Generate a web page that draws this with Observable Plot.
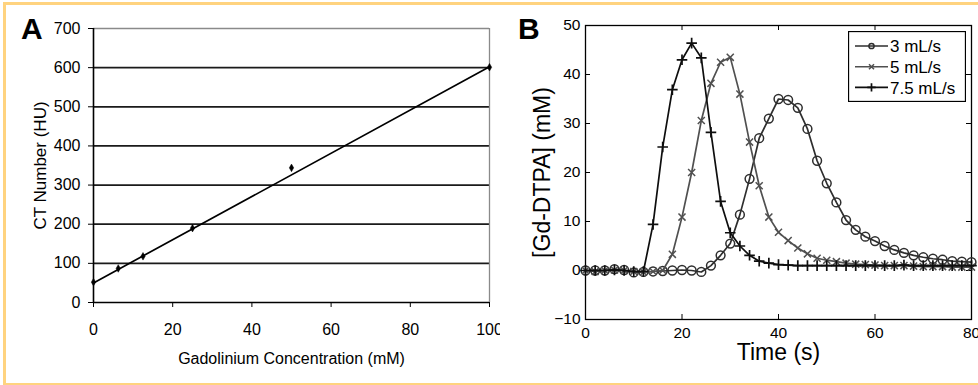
<!DOCTYPE html>
<html><head><meta charset="utf-8">
<script src="https://cdn.jsdelivr.net/npm/d3@7"></script>
<script src="https://cdn.jsdelivr.net/npm/@observablehq/plot@0.6"></script>
<style>
html,body{margin:0;padding:0;background:#fff;}
#wrap{position:relative;width:978px;height:385px;overflow:hidden;font-family:Arial,"Liberation Sans",sans-serif;}
#border{position:absolute;left:3px;top:2px;width:990px;height:378px;border-left:3px solid #FFD37F;border-top:3px solid #FFD37F;border-bottom:2px solid #FFD37F;}
.panel{position:absolute;top:0;height:385px;overflow:hidden;}
#pa{left:0;width:500px;}
#pb{left:500px;width:478px;}
.tag{position:absolute;font-weight:bold;font-size:30px;line-height:30px;color:#000;}
#ta{left:21px;top:14px;}
#tb{left:518px;top:14px;}
#legend{position:absolute;left:848px;top:31px;}
</style></head>
<body><div id="wrap"><div id="border"></div><div class="panel" id="pa"></div><div class="panel" id="pb"></div><div class="tag" id="ta">A</div><div class="tag" id="tb">B</div><div id="legend"></div></div>
<script>
// ---------- Panel A data ----------
const concA = [0, 6.25, 12.5, 25, 50, 100];
const huA = [52, 87, 118, 190, 344, 601];
const fitConcA = [0, 100];
const fitHuA = [50, 602];
const xTicksA = [0, 20, 40, 60, 80, 100];
const yTicksA = [0, 100, 200, 300, 400, 500, 600, 700];
const gridA = [100, 200, 300, 400, 500, 600];
const xLabelA = "Gadolinium Concentration (mM)";
const yLabelA = "CT Number (HU)";

// ---------- Panel B data ----------
const timeB = [0,2,4,6,8,10,12,14,16,18,20,22,24,26,28,30,32,34,36,38,40,42,44,46,48,50,52,54,56,58,60,62,64,66,68,70,72,74,76,78,80];
const flow3 = [0,0,0,0.3,0.1,-0.4,-0.3,-0.2,-0.1,0,0.1,0,-0.3,1.0,3.1,5.5,11.4,18.7,27,31,35,34.8,33.2,28.9,22.4,17.8,13.9,10.3,8.3,6.9,6.0,5.0,4.2,3.6,3.1,2.7,2.4,2.2,1.9,1.8,1.7];
const flow5 = [0,-0.2,0,0.1,0,-0.2,-0.3,-0.2,0,3.3,10.9,20,30.6,38.2,42.5,43.5,36,26.2,17.3,10.9,7.8,6.1,4.6,3.4,2.5,2.1,1.8,1.5,1.3,1.2,1.1,1.0,1.0,1.0,0.9,0.8,0.8,0.8,0.7,0.7,0.7];
const flow75 = [0,0,0,0.1,0,-0.2,-0.2,9.4,25.2,36.9,43,46.4,43.4,28.2,14.1,7.7,5.0,3.1,1.9,1.5,1.2,1.1,1.0,1.0,1.0,1.0,1.0,1.0,1.0,1.0,1.0,1.0,1.0,1.1,1.0,1.0,1.0,1.0,1.0,1.0,1.0];
const seriesNames = ["3 mL/s", "5 mL/s", "7.5 mL/s"];
const xTicksB = [0, 20, 40, 60, 80];
const yTicksB = [-10, 0, 10, 20, 30, 40, 50];
const xLabelB = "Time (s)";
const yLabelB = "[Gd-DTPA] (mM)";

// ---------- styles (kept apart from data) ----------
const FONT = 'Arial, "Liberation Sans", sans-serif';
const seriesStyle = [
  {color: "#2e2e2e", symbol: "circle", r: 4.4, sw: 1.5, lr: 2.6},
  {color: "#505050", symbol: "times", r: 3.3, sw: 1.5, lr: 2.4},
  {color: "#0e0e0e", symbol: "plus", r: 3.5, sw: 1.7, lr: 2.8}
];

// ---------- Panel A ----------
const pointsA = concA.map((c, i) => ({c, hu: huA[i]}));
const fitA = fitConcA.map((c, i) => ({c, hu: fitHuA[i]}));
const chartA = Plot.plot({
  width: 500, height: 385,
  marginLeft: 93, marginRight: 11, marginTop: 28, marginBottom: 83,
  style: {fontFamily: FONT, fontSize: "16px", color: "#000", background: "transparent", overflow: "visible"},
  x: {domain: [0, 100], ticks: xTicksA, tickSize: 5, tickPadding: 16, label: null},
  y: {domain: [0, 700], ticks: yTicksA, tickSize: 5, tickPadding: 8, label: null},
  marks: [
    Plot.ruleY(gridA, {stroke: "#1a1a1a", strokeWidth: 1.7}),
    Plot.ruleY([700], {stroke: "#8a8a8a", strokeWidth: 1.3}),
    Plot.ruleX([100], {stroke: "#8a8a8a", strokeWidth: 1.3}),
    Plot.ruleY([0], {stroke: "#000", strokeWidth: 1.6}),
    Plot.ruleX([0], {stroke: "#000", strokeWidth: 1.6}),
    Plot.line(fitA, {x: "c", y: "hu", stroke: "#000", strokeWidth: 1.7}),
    Plot.dot(pointsA, {x: "c", y: "hu", symbol: "diamond", r: 2.3, fill: "#000", stroke: "#000", strokeWidth: 0.5}),
    Plot.text([xLabelA], {text: d => d, frameAnchor: "bottom", textAnchor: "middle", lineAnchor: "middle", dy: 56, fontSize: 16}),
    Plot.text([yLabelA], {text: d => d, frameAnchor: "left", textAnchor: "middle", lineAnchor: "middle", rotate: -90, dx: -53, fontSize: 17})
  ]
});
document.getElementById("pa").appendChild(chartA);

// ---------- Panel B ----------
const flows = [flow3, flow5, flow75];
const rowsB = seriesNames.map((name, k) => timeB.map((t, i) => ({t, v: flows[k][i], name})));
const plotW = 478 - 85 - 7, plotH = 385 - 25 - 66;
const marksB = [
  Plot.frame({stroke: "#000", strokeWidth: 1.3}),
  Plot.tickY(yTicksB, {y: d => d, insetRight: plotW - 5, stroke: "#000"}),
  Plot.tickY(yTicksB, {y: d => d, insetLeft: plotW - 5, stroke: "#000"}),
  Plot.tickX(xTicksB, {x: d => d, insetBottom: plotH - 5, stroke: "#000"}),
  Plot.tickX(xTicksB, {x: d => d, insetTop: plotH - 5, stroke: "#000"})
];
rowsB.forEach((rows, k) => {
  const s = seriesStyle[k];
  marksB.push(Plot.line(rows, {x: "t", y: "v", stroke: s.color, strokeWidth: 1.7}));
  marksB.push(Plot.dot(rows, {x: "t", y: "v", symbol: s.symbol, r: s.r, stroke: s.color, strokeWidth: s.sw, fill: "none"}));
});
marksB.push(Plot.text([xLabelB], {text: d => d, frameAnchor: "bottom", textAnchor: "middle", lineAnchor: "middle", dy: 33, fontSize: 23}));
marksB.push(Plot.text([yLabelB], {text: d => d, frameAnchor: "left", textAnchor: "middle", lineAnchor: "middle", rotate: -90, dx: -43, fontSize: 23}));
const chartB = Plot.plot({
  width: 478, height: 385,
  marginLeft: 85, marginRight: 7, marginTop: 25, marginBottom: 66,
  style: {fontFamily: FONT, fontSize: "15.5px", color: "#000", background: "transparent", overflow: "visible"},
  x: {domain: [0, 80], ticks: xTicksB, tickSize: 0, tickPadding: 7, label: null},
  y: {domain: [-10, 50], ticks: yTicksB, tickSize: 0, tickPadding: 5, label: null},
  marks: marksB
});
document.getElementById("pb").appendChild(chartB);

// ---------- Legend ----------
const lw = 118, lh = 71;
const leg = d3.select("#legend").append("svg").attr("width", lw).attr("height", lh)
  .style("font-family", FONT).style("display", "block");
leg.append("rect").attr("x", 0.5).attr("y", 0.5).attr("width", lw - 1).attr("height", lh - 1)
  .attr("fill", "#fff").attr("stroke", "#000").attr("stroke-width", 1.3);
const symMap = {circle: d3.symbolCircle, times: d3.symbolTimes, plus: d3.symbolPlus};
seriesNames.forEach((name, k) => {
  const s = seriesStyle[k];
  const cy = 15 + k * 20.7;
  const g = leg.append("g");
  g.append("line").attr("x1", 7).attr("x2", 40).attr("y1", cy).attr("y2", cy)
    .attr("stroke", s.color).attr("stroke-width", 1.6);
  g.append("path").attr("transform", `translate(23.5,${cy})`)
    .attr("d", d3.symbol(symMap[s.symbol], Math.PI * s.lr * s.lr)())
    .attr("fill", "none").attr("stroke", s.color).attr("stroke-width", s.sw);
  g.append("text").attr("x", 42).attr("y", cy).attr("dy", "0.36em")
    .attr("font-size", 17).attr("fill", "#000").text(name);
});
</script>
</body></html>
